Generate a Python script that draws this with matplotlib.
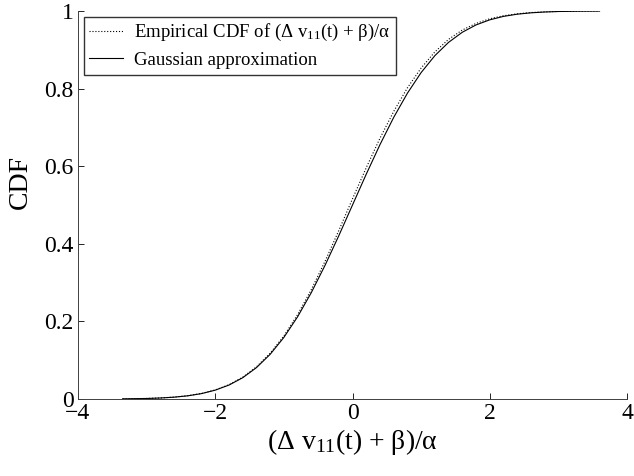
import matplotlib
matplotlib.use("Agg")
import matplotlib.pyplot as plt

plt.rcParams['font.family'] = ['Liberation Serif', 'DejaVu Serif']
plt.rcParams['mathtext.fontset'] = 'custom'
plt.rcParams['mathtext.rm'] = 'Liberation Serif'
plt.rcParams['mathtext.default'] = 'regular'

# values
x_emp = [-3.35, -3.0, -2.8, -2.6, -2.4, -2.2, -2.0, -1.8, -1.6, -1.4, -1.2, -1.0,
         -0.8, -0.6, -0.4, -0.2, 0.0, 0.2, 0.4, 0.6, 0.8, 1.0, 1.2, 1.4, 1.6,
         1.8, 2.0, 2.2, 2.4, 2.6, 2.8, 3.0, 3.3, 3.6]
cdf_emp = [0.0004, 0.0014, 0.0027, 0.0049, 0.0085, 0.0143, 0.0234, 0.0368, 0.0562,
           0.0828, 0.1180, 0.1625, 0.2175, 0.2820, 0.3550, 0.4340, 0.5160, 0.5960,
           0.6720, 0.7410, 0.8020, 0.8530, 0.8945, 0.9270, 0.9510, 0.9680, 0.9800,
           0.9878, 0.9927, 0.9960, 0.9978, 0.9989, 0.9996, 0.9999]

x_gauss = [-3.35, -3.0, -2.8, -2.6, -2.4, -2.2, -2.0, -1.8, -1.6, -1.4, -1.2, -1.0,
           -0.8, -0.6, -0.4, -0.2, 0.0, 0.2, 0.4, 0.6, 0.8, 1.0, 1.2, 1.4, 1.6,
           1.8, 2.0, 2.2, 2.4, 2.6, 2.8, 3.0, 3.3, 3.6]
cdf_gauss = [0.0004, 0.0013, 0.0026, 0.0047, 0.0082, 0.0139, 0.0228, 0.0359, 0.0548,
             0.0808, 0.1151, 0.1587, 0.2119, 0.2743, 0.3446, 0.4207, 0.5000, 0.5793,
             0.6554, 0.7257, 0.7881, 0.8413, 0.8849, 0.9192, 0.9452, 0.9641, 0.9772,
             0.9861, 0.9918, 0.9953, 0.9974, 0.9987, 0.9995, 0.9998]

fig = plt.figure(figsize=(6.34, 4.76), dpi=100)
ax = fig.add_axes([78/634, 1 - 399/476, (627 - 78)/634, (399 - 11)/476])

ax.plot(x_emp, cdf_emp, ':', color='black', lw=0.8,
        label='Empirical CDF of (Δ v$_{11}$(t) + β)/α')
ax.plot(x_gauss, cdf_gauss, '-', color='black', lw=0.8,
        label='Gaussian approximation')

ax.set_xlim(-4, 4)
ax.set_ylim(0, 1)
ax.set_xticks([-4, -2, 0, 2, 4])
ax.set_xticklabels(['−4', '−2', '0', '2', '4'])
ax.set_yticks([0, 0.2, 0.4, 0.6, 0.8, 1])
ax.set_yticklabels(['0', '0.2', '0.4', '0.6', '0.8', '1'])
ax.tick_params(direction='in', length=4, width=0.6, labelsize=17, pad=3)

for s in ['top', 'right']:
    ax.spines[s].set_visible(False)
for s in ['left', 'bottom']:
    ax.spines[s].set_linewidth(0.7)
    ax.spines[s].set_color('#404040')

ax.set_xlabel('(Δ v$_{11}$(t) + β)/α', fontsize=20, labelpad=2)
ax.set_ylabel('CDF', fontsize=20)
ax.yaxis.set_label_coords(-0.083, 0.56)

leg = ax.legend(loc='upper left', fontsize=13.5, frameon=True, fancybox=False,
                edgecolor='black', borderaxespad=0.3, handlelength=1.8,
                handletextpad=0.6, borderpad=0.3, labelspacing=0.45)
leg.get_frame().set_linewidth(1.0)

fig.savefig('out.png', dpi=100)
